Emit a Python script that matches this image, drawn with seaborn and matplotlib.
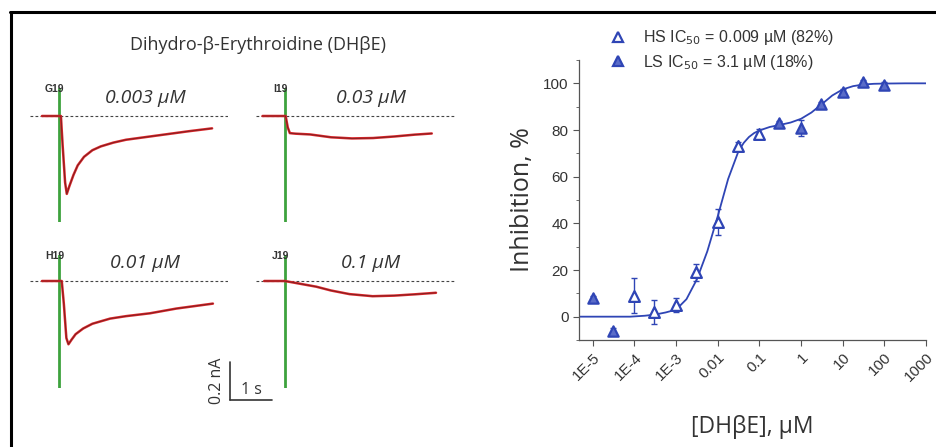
import numpy as np
import pandas as pd
import seaborn as sns
import matplotlib.pyplot as plt
from matplotlib.lines import Line2D

## data ##

# dose-response (right panel)
conc = [1e-5, 3e-5, 1e-4, 3e-4, 1e-3, 3e-3, 0.01, 0.03, 0.1, 0.3, 1, 3, 10, 30, 100]
inhib = [8, -6, 9, 2, 5, 19, 40.5, 73, 78.5, 83, 81, 91, 96.5, 100.5, 99.5]
inhib_err = [1, 1, 7.5, 5, 3, 3.5, 5.5, 2, 2, 1, 3.5, 1, 1, 1, 1]
site = ["LS", "LS", "HS", "HS", "HS", "HS", "HS", "HS", "HS", "LS", "LS", "LS", "LS", "LS", "LS"]

# fitted curve
fit_logc = [-5.33, -4.1, -3.75, -3.5, -3.25, -3, -2.75, -2.5, -2.25, -2, -1.75, -1.5, -1.375, -1.25, -1.125, -1,
            -0.75, -0.5, -0.25, 0, 0.25, 0.5, 0.75, 1, 1.25, 1.5, 1.75, 2, 2.5, 3]
fit_inhib = [0, 0, 0.4, 0.9, 1.8, 3, 7.5, 16, 28, 43, 59, 71, 74.5, 77, 78.7, 79.8,
             81.3, 82.2, 83.2, 84.8, 87.5, 91.1, 94.8, 97.4, 98.8, 99.5, 99.8, 99.9, 100, 100]

xtick_vals = [1e-5, 1e-4, 1e-3, 0.01, 0.1, 1, 10, 100, 1000]
xtick_labels = ["1E-5", "1E-4", "1E-3", "0.01", "0.1", "1", "10", "100", "1000"]

legend_labels = ["HS IC$_{50}$ = 0.009 \u00b5M (82%)", "LS IC$_{50}$ = 3.1 \u00b5M (18%)"]

# current traces (left panel): time in s, current in nA
trace_names = ["G19", "I19", "H19", "J19"]
trace_conc = ["0.003 \u03bcM", "0.03 \u03bcM", "0.01 \u03bcM", "0.1 \u03bcM"]
t_g19 = [0, 0.45, 0.49, 0.55, 0.59, 0.65, 0.75, 0.85, 1.0, 1.2, 1.4, 1.7, 2.0, 2.5, 3.0, 3.5, 4.05]
i_g19 = [0, 0, -0.15, -0.35, -0.41, -0.37, -0.31, -0.26, -0.215, -0.18, -0.16, -0.14, -0.125, -0.11, -0.095, -0.08, -0.065]
t_i19 = [-0.13, 0.42, 0.47, 0.52, 0.65, 1.0, 1.5, 2.0, 2.5, 3.0, 3.5, 3.9]
i_i19 = [0, 0, -0.06, -0.09, -0.093, -0.097, -0.112, -0.118, -0.116, -0.108, -0.098, -0.092]
t_h19 = [0, 0.47, 0.52, 0.58, 0.63, 0.7, 0.8, 0.98, 1.2, 1.62, 2.0, 2.57, 3.2, 4.07]
i_h19 = [0, 0, -0.12, -0.3, -0.333, -0.31, -0.28, -0.25, -0.225, -0.198, -0.185, -0.17, -0.145, -0.119]
t_j19 = [-0.09, 0.4, 0.7, 1.15, 1.5, 1.94, 2.49, 3.0, 3.5, 4.0]
i_j19 = [0, 0, -0.012, -0.03, -0.05, -0.069, -0.08, -0.077, -0.07, -0.062]
drug_on = 0.4

## plotting ##

sns.set_theme(style="ticks")
plt.rcParams["font.family"] = ["Open Sans", "DejaVu Sans"]

W, H = 937, 447
fig = plt.figure(figsize=(W / 100, H / 100), dpi=100)


def px_axes(x0, y0, x1, y1):
    return fig.add_axes([x0 / W, 1 - y1 / H, (x1 - x0) / W, (y1 - y0) / H])


blue = "#2f45b5"
red = "#d8262a"
green = "#3da23d"

# frame
fig.add_artist(Line2D([11.5 / W, 11.5 / W], [0, 1 - 11.5 / H], color="black", lw=2.2))
fig.add_artist(Line2D([10.5 / W, 1], [1 - 11.5 / H, 1 - 11.5 / H], color="black", lw=2.2))

fig.text(258 / W, 1 - 45 / H, "Dihydro-\u03b2-Erythroidine (DH\u03b2E)", ha="center", va="center",
         fontsize=13, color="#333333")

# trace panels
boxes = [(30, 88, 228, 222), (256, 88, 455, 222), (30, 255, 228, 388), (256, 255, 455, 388)]
baselines = [116, 116, 281, 281]
traces = [(t_g19, i_g19), (t_i19, i_i19), (t_h19, i_h19), (t_j19, i_j19)]
px_per_s, px_per_na = 42, 190
trace_axes = []
for k, (box, base, (tt, ii)) in enumerate(zip(boxes, baselines, traces)):
    ax = px_axes(*box)
    ax.set_xlim(-12 / px_per_s, (box[2] - box[0] - 12) / px_per_s)
    ax.set_ylim(-(box[3] - base) / px_per_na, (base - box[1]) / px_per_na)
    ax.axhline(0, color="#444444", lw=0.8, ls=(0, (2.5, 2)))
    ax.axvline(drug_on, color=green, lw=2)
    df = pd.DataFrame({"t": tt, "i": ii})
    sns.lineplot(data=df, x="t", y="i", ax=ax, color=red, lw=1.8)
    sns.lineplot(data=df, x="t", y="i", ax=ax, color="#3a1a1a", lw=0.5, alpha=0.7)
    ax.text(drug_on - 0.1, ax.get_ylim()[1] - 0.005, trace_names[k], ha="center", va="center",
            fontsize=7.5, color="#333333", fontweight="bold", family=["Liberation Sans Narrow", "Liberation Sans"])
    ax.text(2.45, 0.045, trace_conc[k], ha="center", va="bottom", fontsize=14,
            style="italic", color="#333333")
    ax.axis("off")
    trace_axes.append(ax)

# scale bar on the H19 panel
ax = trace_axes[2]
sx, sy = 4.48, -0.626
ax.plot([sx, sx], [sy, sy + 0.2], color="#333333", lw=1.2, clip_on=False)
ax.plot([sx, sx + 1], [sy, sy], color="#333333", lw=1.2, clip_on=False)
ax.text(sx - 0.12, sy + 0.1, "0.2 nA", rotation=90, ha="right", va="center", fontsize=11.5,
        color="#333333", clip_on=False)
ax.text(sx + 0.5, sy + 0.01, "1 s", ha="center", va="bottom", fontsize=11.5, color="#333333",
        clip_on=False)

# dose-response panel
ax = px_axes(579, 60, 926, 340)
fit_df = pd.DataFrame({"c": 10 ** np.array(fit_logc), "y": fit_inhib})
sns.lineplot(data=fit_df, x="c", y="y", ax=ax, color=blue, lw=1.3)
ax.errorbar(conc, inhib, yerr=inhib_err, fmt="none", ecolor=blue, elinewidth=1.0, capsize=2.5,
            capthick=1.0)
pts = pd.DataFrame({"c": conc, "y": inhib, "site": site})
sns.scatterplot(data=pts[pts.site == "HS"], x="c", y="y", ax=ax, marker="^", s=60,
                facecolor="white", edgecolor=blue, linewidth=1.6, zorder=4)
sns.scatterplot(data=pts[pts.site == "LS"], x="c", y="y", ax=ax, marker="^", s=55,
                facecolor="#5a6cc8", edgecolor=blue, linewidth=1.6, zorder=4)
ax.set_xscale("log")
ax.set_xlim(10 ** -5.33, 1000)
ax.set_ylim(-10, 110)
ax.set_xticks(xtick_vals)
ax.set_xticklabels(xtick_labels, rotation=45, ha="right", rotation_mode="anchor",
                   family=["Liberation Sans"], fontsize=11, color="#333333")
ax.set_yticks([0, 20, 40, 60, 80, 100])
ax.set_yticks([-10, 10, 30, 50, 70, 90, 110], minor=True)
ax.set_yticklabels(["0", "20", "40", "60", "80", "100"], family=["Liberation Sans"],
                   fontsize=11, color="#333333")
ax.tick_params(which="major", length=4, width=0.8, color="#555555")
ax.tick_params(which="minor", length=2.5, width=0.6, color="#555555")
for s in ["left", "bottom"]:
    ax.spines[s].set_color("#555555")
    ax.spines[s].set_linewidth(0.9)
sns.despine(ax=ax)
ax.set_xlabel("[DH\u03b2E], \u00b5M", fontsize=16.5, color="#333333", labelpad=22)
ax.set_ylabel("Inhibition, %", fontsize=18, color="#333333", labelpad=6)

handles = [
    Line2D([], [], ls="none", marker="^", ms=7, mfc="white", mec=blue, mew=1.6),
    Line2D([], [], ls="none", marker="^", ms=7, mfc="#5a6cc8", mec=blue, mew=1.6),
]
fig.legend(handles, legend_labels, loc="upper left", bbox_to_anchor=(588 / W, 1 - 14 / H),
           frameon=False, prop={"family": "Liberation Sans", "size": 11.5},
           handletextpad=0.55, labelspacing=0.35, labelcolor="#333333")

fig.savefig("out.png", dpi=100)
